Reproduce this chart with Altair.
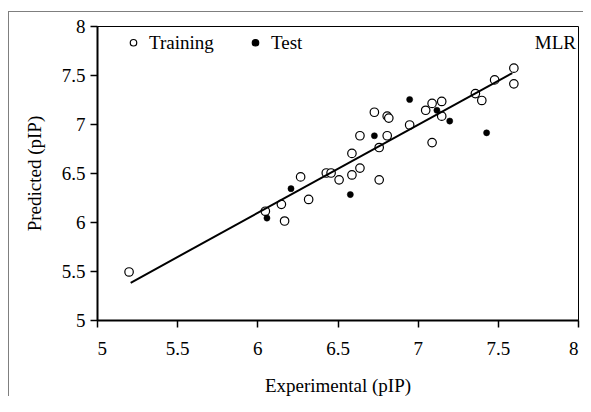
import altair as alt
import pandas as pd

# Training set (Experimental, Predicted)
train_x = [5.20, 6.05, 6.15, 6.17, 6.27, 6.32, 6.43, 6.46, 6.51, 6.59, 6.59, 6.64, 6.64, 6.73,
           6.76, 6.76, 6.81, 6.82, 6.81, 6.95, 7.05, 7.09, 7.15, 7.15, 7.09, 7.36, 7.40, 7.48,
           7.60, 7.60]
train_y = [5.49, 6.11, 6.18, 6.01, 6.46, 6.23, 6.50, 6.50, 6.43, 6.70, 6.48, 6.88, 6.55, 7.12,
           6.76, 6.43, 7.08, 7.06, 6.88, 6.99, 7.14, 7.21, 7.23, 7.08, 6.81, 7.31, 7.24, 7.45,
           7.57, 7.41]
# Test set
test_x = [6.06, 6.21, 6.58, 6.73, 6.95, 7.12, 7.20, 7.43]
test_y = [6.04, 6.34, 6.28, 6.88, 7.25, 7.14, 7.03, 6.91]
# Regression line end points
line_x = [5.21, 7.59]
line_y = [5.38, 7.52]
ticks = [5, 5.5, 6, 6.5, 7, 7.5, 8]
series = ["Training", "Test"]

W, H = 481, 294
PAD_L, PAD_T, PAD_R, PAD_B = 89, 18, 5, 76
FONT = "Times New Roman, Liberation Serif, serif"

pts = pd.DataFrame({
    "exp": train_x + test_x,
    "pred": train_y + test_y,
    "set": ["Training"] * len(train_x) + ["Test"] * len(test_x),
})
line_df = pd.DataFrame({"exp": line_x, "pred": line_y})

xs = alt.Scale(domain=[5, 8], nice=False, zero=False)
ys = alt.Scale(domain=[5, 8], nice=False, zero=False)
xax = alt.Axis(values=ticks, format="~g", title="Experimental (pIP)", labelPadding=12,
               titlePadding=18, labelFont=FONT, titleFont=FONT, labelFontSize=19,
               titleFontSize=19)
yax = alt.Axis(values=ticks, format="~g", title="Predicted (pIP)", labelPadding=5,
               titlePadding=17, labelFont=FONT, titleFont=FONT, labelFontSize=19,
               titleFontSize=19)

fill_enc = alt.Fill("set:N", scale=alt.Scale(domain=series, range=["white", "black"]),
                    legend=alt.Legend(title=None, orient="none", legendX=27, legendY=7,
                                      direction="horizontal", columnPadding=32,
                                      labelOffset=6, padding=0, symbolSize=42,
                                      symbolType="circle", labelFont=FONT, labelFontSize=19,
                                      labelColor="black",
                                      symbolStrokeColor="black", symbolStrokeWidth=1.2))

base = alt.Chart(pts).encode(
    x=alt.X("exp:Q", scale=xs, axis=xax),
    y=alt.Y("pred:Q", scale=ys, axis=yax),
    fill=fill_enc,
)
train_layer = base.transform_filter(alt.datum.set == "Training").mark_point(
    shape="circle", filled=True, stroke="black", strokeWidth=1.2, opacity=1, size=72)
test_layer = base.transform_filter(alt.datum.set == "Test").mark_point(
    shape="circle", filled=True, stroke="black", strokeWidth=0.5, opacity=1, size=38)

line = alt.Chart(line_df).mark_line(color="black", strokeWidth=2).encode(
    x=alt.X("exp:Q", scale=xs), y=alt.Y("pred:Q", scale=ys))

label = alt.Chart(pd.DataFrame({"t": ["MLR"]})).mark_text(
    align="right", baseline="middle", font=FONT, fontSize=19, color="black").encode(
    x=alt.value(W - 2), y=alt.value(17), text="t:N")

one = pd.DataFrame({"a": [0]})
frame_top = alt.Chart(one).mark_rect(color="#7f7f7f", clip=False).encode(
    x=alt.value(-PAD_L), x2=alt.value(W + PAD_R), y=alt.value(-PAD_T + 3),
    y2=alt.value(-PAD_T + 4))
frame_left = alt.Chart(one).mark_rect(color="#7f7f7f", clip=False).encode(
    x=alt.value(-PAD_L), x2=alt.value(-PAD_L + 1), y=alt.value(-PAD_T + 3),
    y2=alt.value(H + PAD_B))

chart = alt.layer(frame_top, frame_left, train_layer, line, test_layer, label).properties(
    width=W, height=H,
    autosize=alt.AutoSizeParams(type="none"),
    padding={"left": PAD_L, "top": PAD_T, "right": PAD_R, "bottom": PAD_B},
).configure_view(stroke="black", strokeWidth=1).configure_axis(
    grid=False, domainColor="black", domainWidth=2, tickColor="black", tickWidth=1.5,
    tickSize=7, labelFont=FONT, labelFontSize=19, labelColor="black",
    titleFont=FONT, titleFontSize=19, titleFontWeight="normal", titleColor="black",
).configure_legend(labelFont=FONT, labelFontSize=19, labelColor="black")

chart.save("out.html", embed_options={"renderer": "svg", "actions": False})
